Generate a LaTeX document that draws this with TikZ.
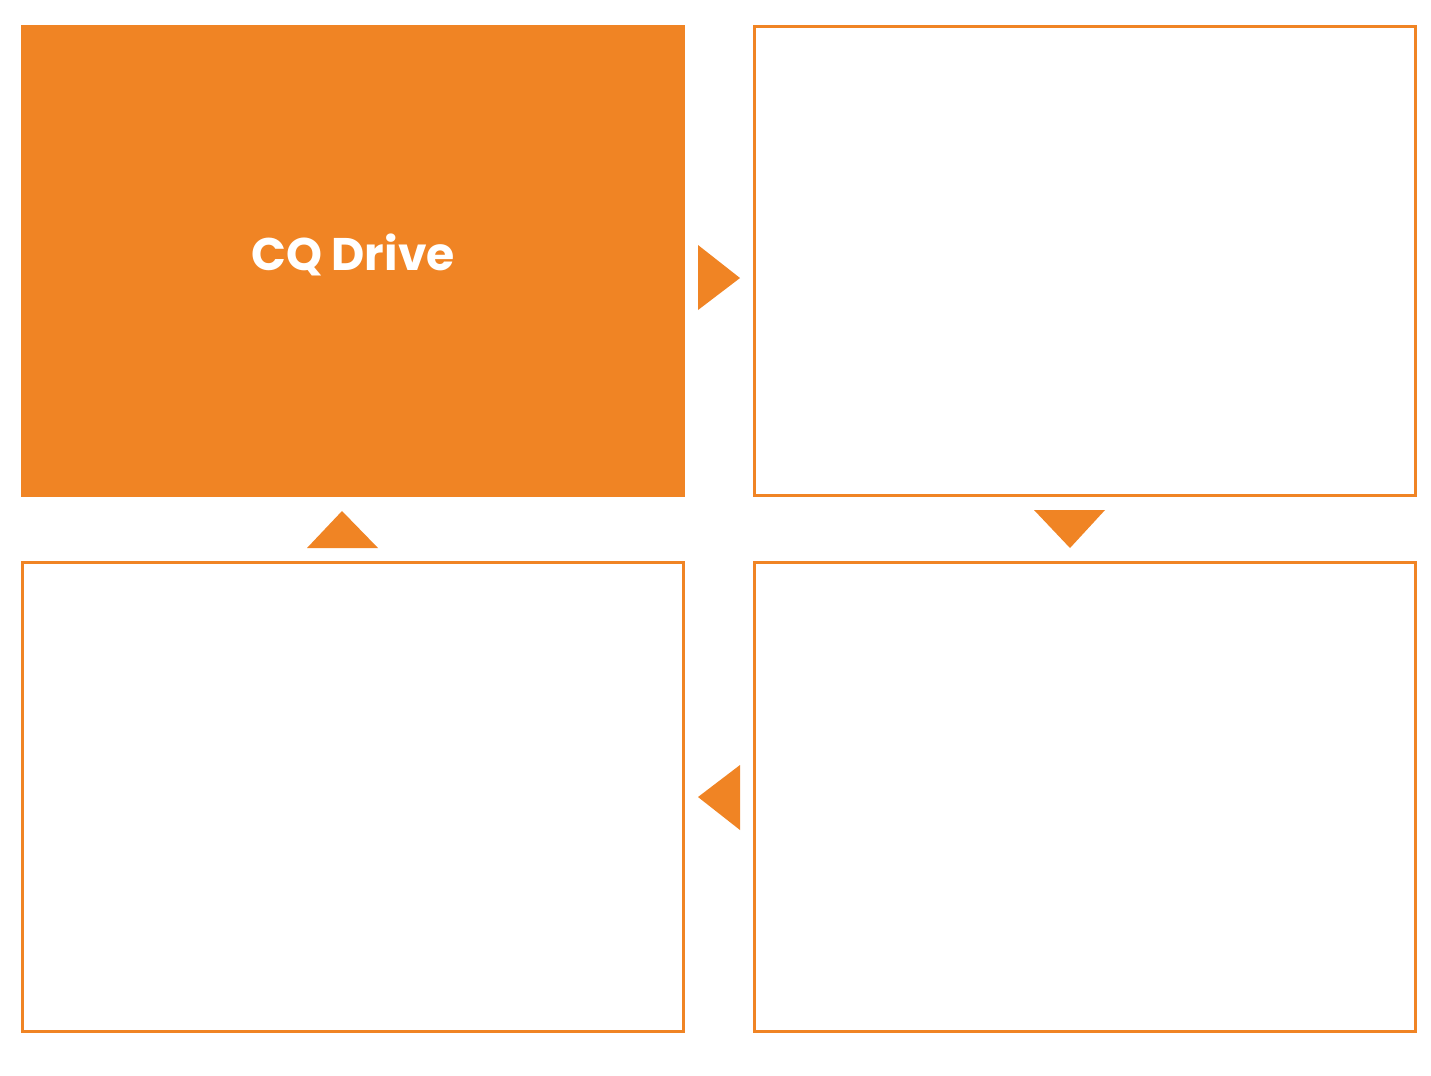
\documentclass[tikz,border=0pt]{standalone}
\usepackage{fontspec}
\setsansfont{Poppins}
\usepackage{xcolor}
\usetikzlibrary{calc}
\definecolor{cqorange}{HTML}{F08424}
\tikzset{
  panel/.style={draw=cqorange, line width=0.8pt, fill=white, minimum width=6.6cm, minimum height=4.68cm, inner sep=0pt},
  flow/.style={fill=cqorange}
}
\begin{document}
\begin{tikzpicture}[x=0.01cm,y=-0.01cm]
\useasboundingbox[fill=white] (0,0) rectangle (1431,1075);

% Panels
\node[panel, fill=cqorange] (drive) at (353,261) {};
\node[panel] (step2) at (1085,261) {};
\node[panel] (step3) at (1085,797) {};
\node[panel] (step4) at (353,797) {};
\node[text=white, font=\sffamily\bfseries\fontsize{13}{15}\selectfont] (drivelbl) at (353,255) {CQ Drive};

% Arrows between the panels
\fill[flow] (698,245) -- (740,278) -- (698,310) -- cycle;
\fill[flow] (1034,510) -- (1105,510) -- (1070,548) -- cycle;
\fill[flow] (740,765) -- (698,797) -- (740,830) -- cycle;
\fill[flow] (307,548) -- (342,511) -- (378,548) -- cycle;
\end{tikzpicture}
\end{document}
